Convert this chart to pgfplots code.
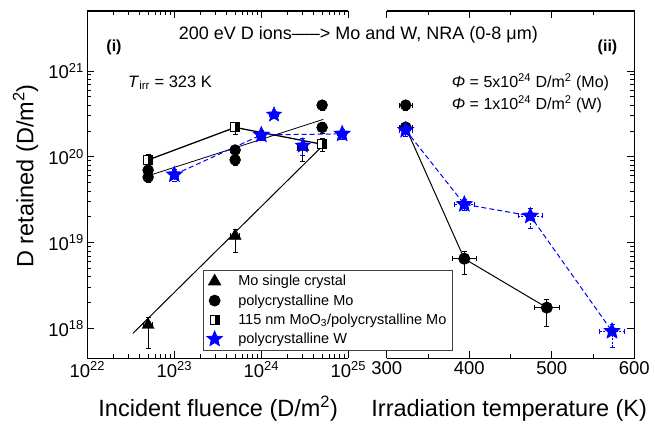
\documentclass[border=0pt]{standalone}
\usepackage{fontspec}
\setmainfont{Liberation Sans}
\usepackage{pgfplots}
\pgfplotsset{compat=1.18}

% filled five-point star
\pgfdeclareplotmark{fstar}{%
  \pgfpathmoveto{\pgfpointpolar{90}{\pgfplotmarksize}}%
  \pgfpathlineto{\pgfpointpolar{126}{0.45*\pgfplotmarksize}}%
  \pgfpathlineto{\pgfpointpolar{162}{\pgfplotmarksize}}%
  \pgfpathlineto{\pgfpointpolar{198}{0.45*\pgfplotmarksize}}%
  \pgfpathlineto{\pgfpointpolar{234}{\pgfplotmarksize}}%
  \pgfpathlineto{\pgfpointpolar{270}{0.45*\pgfplotmarksize}}%
  \pgfpathlineto{\pgfpointpolar{306}{\pgfplotmarksize}}%
  \pgfpathlineto{\pgfpointpolar{342}{0.45*\pgfplotmarksize}}%
  \pgfpathlineto{\pgfpointpolar{18}{\pgfplotmarksize}}%
  \pgfpathlineto{\pgfpointpolar{54}{0.45*\pgfplotmarksize}}%
  \pgfpathclose
  \pgfusepathqfillstroke}
% square, left half open, right half filled
\pgfdeclareplotmark{halfsq}{%
  \pgfsetfillcolor{white}%
  \pgfpathrectangle{\pgfqpoint{-\pgfplotmarksize}{-\pgfplotmarksize}}{\pgfqpoint{2\pgfplotmarksize}{2\pgfplotmarksize}}%
  \pgfusepathqfill
  \pgfsetfillcolor{black}%
  \pgfpathrectangle{\pgfqpoint{0pt}{-\pgfplotmarksize}}{\pgfqpoint{\pgfplotmarksize}{2\pgfplotmarksize}}%
  \pgfusepathqfill
  \pgfpathrectangle{\pgfqpoint{-\pgfplotmarksize}{-\pgfplotmarksize}}{\pgfqpoint{2\pgfplotmarksize}{2\pgfplotmarksize}}%
  \pgfusepathqstroke}

\begin{document}
\begin{tikzpicture}
\path[use as bounding box] (-87.3pt,-64.7pt) rectangle (567.7pt,358.3pt);

% ---- (i) fluence ----
\begin{axis}[at={(0pt,0pt)}, anchor=south west, scale only axis,
  width=261pt, height=347.3pt,
  xmode=log, ymode=log,
  xmin=1e22, xmax=1e25, ymin=4.5e17, ymax=5e21,
  xtick={1e22,1e23,1e24,1e25},
  xticklabels={10\textsuperscript{22},10\textsuperscript{23},10\textsuperscript{24},10\textsuperscript{25}},
  ytick={1e18,1e19,1e20,1e21},
  yticklabels={10\textsuperscript{18},10\textsuperscript{19},10\textsuperscript{20},10\textsuperscript{21}},
  ytick pos=left,
  axis line style={draw=none},
  major tick length=7pt, minor tick length=4pt,
  every tick/.style={black, line width=0.9pt},
  tick label style={font=\fontsize{18.5pt}{20pt}\selectfont},
  clip=false,
  legend cell align=left,
  legend style={at={(0.4418,0.2542)}, anchor=north west, draw=black!75, line width=0.8pt,
    font=\fontsize{14.5pt}{17pt}\selectfont, inner xsep=4pt, inner ysep=3pt, row sep=3.2pt,
    /tikz/every odd column/.append style={column sep=14pt}},
]
\draw[line width=1.2pt] (rel axis cs:0,1) -- (rel axis cs:0,0) -- (rel axis cs:1,0);
\draw[line width=1.2pt] (rel axis cs:0,1) -- (rel axis cs:1,1);

\addlegendimage{only marks, mark=triangle*, mark size=7pt, black}
\addlegendentry{Mo single crystal}
\addlegendimage{only marks, mark=*, mark size=5.5pt, black}
\addlegendentry{polycrystalline Mo}
\addlegendimage{only marks, mark=halfsq, mark size=4.5pt, black, line width=1pt}
\addlegendentry{115 nm MoO\textsubscript{3}/polycrystalline Mo}
\addlegendimage{only marks, mark=fstar, mark size=8pt, blue}
\addlegendentry{polycrystalline W}

% fit lines
\addplot[black, line width=1pt, forget plot] coordinates {(3.33e22,8.75e17) (4.94e24,1.31e20)};
\addplot[black, line width=0.8pt, forget plot] coordinates {(4.6e22,5.85e19) (5.16e24,2.73e20)};

% Mo single crystal
\addplot[only marks, mark=triangle*, mark size=7pt, black, forget plot,
  error bars/.cd, x dir=both, x explicit, y dir=both, y explicit,
  error bar style={line width=0.7pt, solid}, error mark options={rotate=90, mark size=2.5pt, line width=0.7pt}]
  table[x=x, y=y, x error=xe, y error plus=yp, y error minus=ym] {
x y xe yp ym
5e22 1.1e18 0.6e22 0.26e18 0.52e18
5e23 1.2e19 0.6e23 0.23e19 0.42e19
3e24 1.3e20 0.4e24 0.1e20 0.42e20
};
% polycrystalline Mo
\addplot[only marks, mark=*, mark size=5.5pt, black, forget plot,
  error bars/.cd, x dir=both, x explicit, y dir=both, y explicit,
  error bar style={line width=0.7pt, solid}, error mark options={rotate=90, mark size=2.5pt, line width=0.7pt}]
  table[x=x, y=y, x error=xe, y error plus=yp, y error minus=ym] {
x y xe yp ym
5e22 7.0e19 0.6e22 1.0e19 1.0e19
5e22 5.8e19 0.6e22 0.8e19 0.8e19
5e23 1.2e20 0.6e23 1.5e19 1.5e19
5e23 9.2e19 0.6e23 1.3e19 1.3e19
5e24 4.0e20 0.6e24 0.5e20 0.5e20
5e24 2.2e20 0.6e24 0.3e20 0.3e20
};
% MoO3 / polycrystalline Mo
\addplot[black, line width=1.3pt, mark=halfsq, mark size=4.5pt, mark options={line width=1pt}, forget plot,
  error bars/.cd, x dir=both, x explicit, y dir=both, y explicit,
  error bar style={line width=0.7pt, solid}, error mark options={rotate=90, mark size=2.5pt, line width=0.7pt}]
  table[x=x, y=y, x error=xe, y error plus=yp, y error minus=ym] {
x y xe yp ym
5e22 9.2e19 0.4e22 1.5e19 1.5e19
5e23 2.2e20 0.5e23 0.35e20 0.35e20
5e24 1.4e20 0.5e24 0.25e20 0.25e20
};
% polycrystalline W
\addplot[blue, dash pattern=on 5pt off 3pt, line width=1pt, mark=fstar, mark size=8pt, mark options={solid}, forget plot,
  error bars/.cd, x dir=both, x explicit, y dir=both, y explicit,
  error bar style={line width=0.7pt, dash pattern=on 2pt off 1.5pt}, error mark options={rotate=90, mark size=2.5pt, line width=0.7pt, solid}]
  table[x=x, y=y, x error=xe, y error plus=yp, y error minus=ym] {
x y xe yp ym
1e23 6.2e19 1e22 1e19 1e19
1e24 1.8e20 1.2e23 0.25e20 0.25e20
8.5e24 1.85e20 1e24 0.25e20 0.25e20
};
\addplot[only marks, blue, mark=fstar, mark size=8pt, forget plot,
  error bars/.cd, x dir=both, x explicit, y dir=both, y explicit,
  error bar style={line width=0.7pt, dash pattern=on 2pt off 1.5pt}, error mark options={rotate=90, mark size=2.5pt, line width=0.7pt, solid}]
  table[x=x, y=y, x error=xe, y error plus=yp, y error minus=ym] {
x y xe yp ym
1.4e24 3.1e20 1.5e23 0.3e20 0.3e20
3e24 1.35e20 3.5e23 0.3e20 0.3e20
};
\end{axis}

% ---- (ii) temperature ----
\begin{axis}[at={(299.4pt,0pt)}, anchor=south west, scale only axis,
  width=247.6pt, height=347.3pt,
  ymode=log, ymin=4.5e17, ymax=5e21,
  xmin=300, xmax=600, xtick={300,400,500,600}, xticklabels={300,400,500,600},
  minor x tick num=1,
  ytick={1e18,1e19,1e20,1e21}, yticklabels={}, ytick pos=right,
  axis line style={draw=none},
  major tick length=7pt, minor tick length=4pt,
  every tick/.style={black, line width=0.9pt},
  tick label style={font=\fontsize{18.5pt}{20pt}\selectfont},
  clip=false,
]
\draw[line width=1.2pt] (rel axis cs:0,0) -- (rel axis cs:1,0) -- (rel axis cs:1,1) -- (rel axis cs:0,1);

\addplot[only marks, mark=*, mark size=5.5pt, black,
  error bars/.cd, x dir=both, x explicit, y dir=both, y explicit,
  error bar style={line width=0.7pt, solid}, error mark options={rotate=90, mark size=2.5pt, line width=0.7pt}]
  table[x=x, y=y, x error=xe, y error plus=yp, y error minus=ym] {
x y xe yp ym
323 4.0e20 8 0.5e20 0.5e20
};
\addplot[black, line width=1pt, mark=*, mark size=5.5pt,
  error bars/.cd, x dir=both, x explicit, y dir=both, y explicit,
  error bar style={line width=0.7pt, solid}, error mark options={rotate=90, mark size=2.5pt, line width=0.7pt}]
  table[x=x, y=y, x error=xe, y error plus=yp, y error minus=ym] {
x y xe yp ym
323 2.2e20 8 0.3e20 0.3e20
394 6.5e18 15 1.5e18 2.2e18
494 1.75e18 15 0.45e18 0.7e18
};
\addplot[blue, dash pattern=on 5pt off 3pt, line width=1pt, mark=fstar, mark size=8pt, mark options={solid},
  error bars/.cd, x dir=both, x explicit, y dir=both, y explicit,
  error bar style={line width=0.7pt, dash pattern=on 2pt off 1.5pt}, error mark options={rotate=90, mark size=2.5pt, line width=0.7pt, solid}]
  table[x=x, y=y, x error=xe, y error plus=yp, y error minus=ym] {
x y xe yp ym
323 2.05e20 8 0.3e20 0.3e20
394 2.8e19 12 0.4e19 0.4e19
474 2.05e19 15 0.45e19 0.6e19
573 9.3e17 15 0.2e18 0.33e18
};
\end{axis}

% texts
\node[font=\fontsize{18pt}{20pt}\selectfont] at (271pt,323.3pt) {200 eV D ions—–> Mo and W, NRA (0-8 μm)};
\node[font=\fontsize{16pt}{18pt}\selectfont\bfseries] at (26.7pt,310.8pt) {(i)};
\node[font=\fontsize{16pt}{18pt}\selectfont\bfseries] at (520.2pt,311.3pt) {(ii)};
\node[anchor=base west, inner sep=0pt, font=\fontsize{16.5pt}{18pt}\selectfont] at (40.7pt,271pt) {\textit{T}\textsubscript{irr} = 323 K};
\node[anchor=base west, inner sep=0pt, font=\fontsize{16pt}{18pt}\selectfont] at (364.4pt,270.8pt) {\textit{Φ} = 5x10\textsuperscript{24} D/m\textsuperscript{2} (Mo)};
\node[anchor=base west, inner sep=0pt, font=\fontsize{16pt}{18pt}\selectfont] at (364.4pt,248.3pt) {\textit{Φ} = 1x10\textsuperscript{24} D/m\textsuperscript{2} (W)};
\node[anchor=base, inner sep=0pt, font=\fontsize{23.5pt}{26pt}\selectfont] at (130.9pt,-58.4pt) {Incident fluence (D/m\textsuperscript{2})};
\node[anchor=base, inner sep=0pt, font=\fontsize{23.5pt}{26pt}\selectfont] at (421.9pt,-58.4pt) {Irradiation temperature (K)};
\node[anchor=base, rotate=90, inner sep=0pt, font=\fontsize{23.5pt}{26pt}\selectfont] at (-54pt,182.3pt) {D retained (D/m\textsuperscript{2})};
\end{tikzpicture}
\end{document}
